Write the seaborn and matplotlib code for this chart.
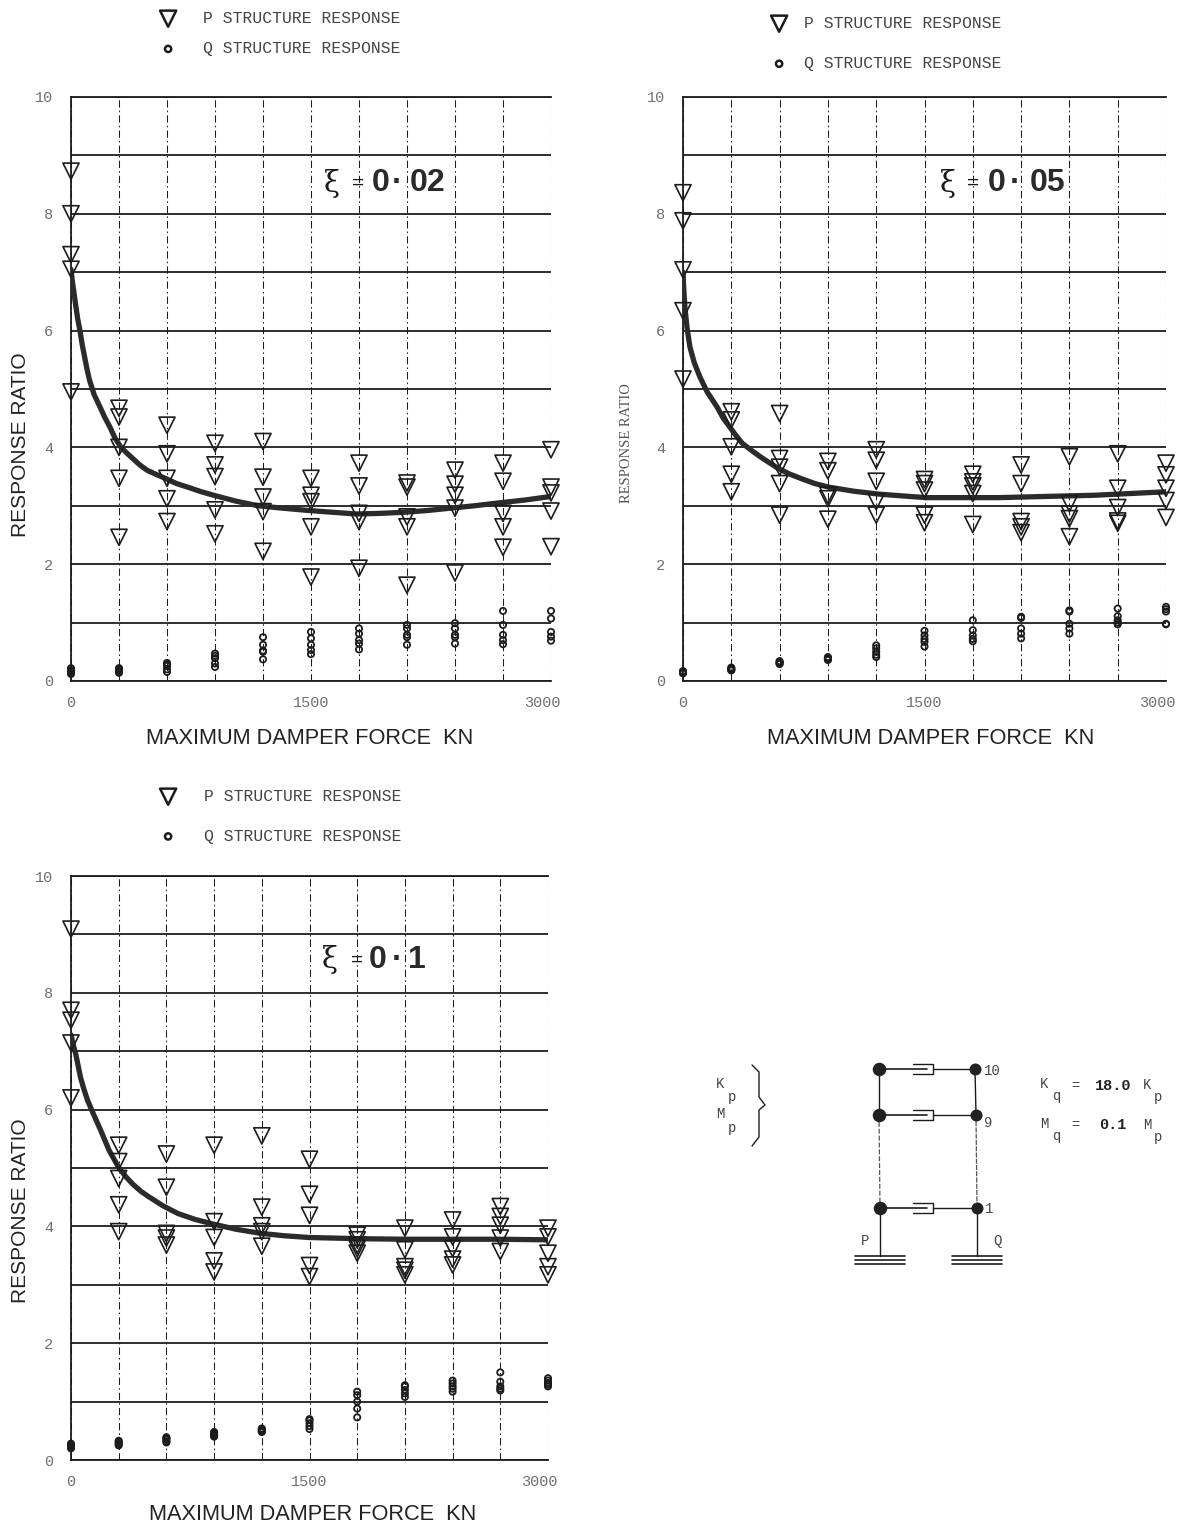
# Response ratio vs maximum damper force, three damping ratios + model sketch
import pandas as pd
import seaborn as sns
import matplotlib
matplotlib.use('Agg')
import matplotlib.pyplot as plt
from matplotlib.transforms import ScaledTranslation

# data
force = [0, 300, 600, 900, 1200, 1500, 1800, 2100, 2400, 2700, 3000]

p_002 = [[8.73, 8.0, 7.3, 7.05, 4.95], [4.67, 4.52, 4.0, 3.47, 2.46], [4.38, 3.89, 3.47, 3.12, 2.73],
         [4.07, 3.7, 3.5, 2.93, 2.52], [4.1, 3.49, 3.15, 2.9, 2.22], [3.47, 3.18, 3.07, 2.64, 1.78],
         [3.73, 3.34, 2.87, 2.73, 1.93], [3.39, 3.32, 2.81, 2.64, 1.64], [3.61, 3.37, 3.18, 2.96, 1.85],
         [3.73, 3.42, 2.87, 2.64, 2.29], [3.96, 3.32, 3.22, 2.91, 2.3]]
q_002 = [[0.22, 0.19, 0.17, 0.14, 0.12], [0.22, 0.2, 0.18, 0.16, 0.14], [0.31, 0.28, 0.26, 0.2, 0.155],
         [0.47, 0.43, 0.39, 0.3, 0.24], [0.75, 0.62, 0.52, 0.5, 0.37], [0.84, 0.73, 0.62, 0.53, 0.46],
         [0.9, 0.81, 0.7, 0.64, 0.54], [0.96, 0.9, 0.79, 0.75, 0.62], [0.99, 0.9, 0.79, 0.75, 0.64],
         [1.2, 0.96, 0.79, 0.7, 0.63], [1.2, 1.07, 0.84, 0.76, 0.69]]
curve_x_002 = [0, 8, 15, 30, 42, 56, 70, 85, 100, 116, 145, 180, 210, 243, 275, 313, 350, 390, 430, 475, 530, 590,
               660, 740, 815, 892, 1030, 1170, 1320, 1483, 1630, 1784, 1930, 2085, 2230, 2374, 2520, 2675, 2840, 3000]
curve_y_002 = [7.05, 6.85, 6.72, 6.42, 6.2, 6.0, 5.76, 5.55, 5.34, 5.15, 4.9, 4.7, 4.52, 4.35, 4.16, 4.0, 3.9, 3.8,
               3.7, 3.61, 3.54, 3.47, 3.38, 3.31, 3.24, 3.18, 3.08, 3.0, 2.96, 2.92, 2.89, 2.86, 2.87, 2.89, 2.92,
               2.96, 3.0, 3.05, 3.1, 3.16]

p_005 = [[8.36, 7.88, 7.04, 6.34, 5.17], [4.61, 4.47, 4.01, 3.54, 3.24], [4.58, 3.81, 3.66, 3.38, 2.84],
         [3.76, 3.6, 3.18, 3.12, 2.77], [3.96, 3.78, 3.42, 3.07, 2.84], [3.45, 3.38, 3.27, 2.84, 2.71],
         [3.54, 3.41, 3.34, 3.21, 2.68], [3.7, 3.38, 2.73, 2.64, 2.54], [3.84, 3.04, 2.86, 2.78, 2.47],
         [3.89, 3.3, 2.97, 2.74, 2.7], [3.73, 3.53, 3.3, 3.09, 2.8]]
q_005 = [[0.17, 0.16, 0.15, 0.14, 0.13], [0.23, 0.22, 0.2, 0.19, 0.18], [0.34, 0.33, 0.31, 0.3, 0.29],
         [0.41, 0.39, 0.38, 0.37, 0.36], [0.61, 0.56, 0.5, 0.45, 0.41], [0.86, 0.78, 0.72, 0.67, 0.59],
         [1.04, 0.87, 0.78, 0.72, 0.68], [1.1, 1.08, 0.9, 0.81, 0.73], [1.21, 1.19, 0.98, 0.9, 0.81],
         [1.24, 1.11, 1.04, 1.0, 0.97], [1.27, 1.23, 1.19, 0.98, 0.97]]
curve_x_005 = [0, 5, 12, 25, 43, 70, 106, 150, 212, 250, 290, 330, 368, 425, 480, 535, 592, 665, 740, 820, 905, 1060,
               1217, 1360, 1508, 1660, 1810, 1960, 2110, 2250, 2400, 2550, 2703, 2850, 3000]
curve_y_005 = [7.0, 6.7, 6.4, 6.05, 5.72, 5.45, 5.2, 4.95, 4.69, 4.5, 4.35, 4.2, 4.07, 3.95, 3.84, 3.74, 3.64, 3.54,
               3.46, 3.38, 3.32, 3.25, 3.2, 3.17, 3.14, 3.14, 3.14, 3.14, 3.15, 3.16, 3.17, 3.18, 3.2, 3.22, 3.24]

p_01 = [[9.09, 7.7, 7.53, 7.14, 6.2], [5.39, 5.11, 4.82, 4.37, 3.91], [5.24, 4.67, 3.88, 3.8, 3.68],
        [5.39, 4.08, 3.81, 3.41, 3.22], [5.55, 4.33, 4.01, 3.91, 3.66], [5.15, 4.55, 4.19, 3.33, 3.14],
        [3.85, 3.77, 3.68, 3.62, 3.54], [3.97, 3.6, 3.31, 3.25, 3.17], [4.11, 3.82, 3.62, 3.44, 3.34],
        [4.34, 4.17, 4.02, 3.8, 3.57], [3.97, 3.82, 3.54, 3.31, 3.17]]
q_01 = [[0.28, 0.26, 0.24, 0.22, 0.2], [0.33, 0.31, 0.29, 0.27, 0.25], [0.39, 0.37, 0.35, 0.32, 0.3],
        [0.48, 0.46, 0.44, 0.42, 0.4], [0.54, 0.52, 0.51, 0.49, 0.48], [0.7, 0.68, 0.63, 0.58, 0.53],
        [1.17, 1.11, 1.0, 0.88, 0.73], [1.28, 1.26, 1.2, 1.14, 1.08], [1.36, 1.31, 1.26, 1.22, 1.17],
        [1.5, 1.34, 1.26, 1.22, 1.19], [1.4, 1.36, 1.32, 1.29, 1.26]]
curve_x_01 = [0, 15, 30, 45, 60, 80, 104, 145, 186, 240, 302, 345, 390, 440, 488, 580, 673, 780, 894, 1040, 1196, 1340,
              1497, 1650, 1800, 2100, 2396, 2700, 3000]
curve_y_01 = [7.28, 7.1, 6.95, 6.75, 6.55, 6.36, 6.16, 5.9, 5.65, 5.3, 5.0, 4.85, 4.72, 4.6, 4.51, 4.35, 4.22, 4.12,
              4.04, 3.95, 3.88, 3.84, 3.81, 3.8, 3.79, 3.78, 3.78, 3.78, 3.77]

y_ticks = [0, 1, 2, 3, 4, 5, 6, 7, 8, 9, 10]
y_labels = ['0', '', '2', '', '4', '', '6', '', '8', '', '10']
x_labels = ['0', '', '', '', '', '1500', '', '', '', '', '3000']

W, H = 1183, 1528
INK = '#1c1c1c'
FADE = '#707070'

sns.set_theme(style='white')
plt.rcParams['font.family'] = ['Liberation Sans', 'DejaVu Sans']

fig = plt.figure(figsize=(W / 100, H / 100), dpi=100, facecolor='white')


def fx(x):
    return x / W


def fy(y):
    return 1 - y / H


def long_table(rows):
    return pd.DataFrame([(f, v) for f, row in zip(force, rows) for v in row], columns=['force', 'ratio'])


def panel(box, p_rows, q_rows, curve_x, curve_y, legend_at, row_gap, text_pad):
    left, top, right, bottom = box
    ax = fig.add_axes([fx(left), fy(bottom), fx(right - left), (bottom - top) / H])
    ax.set_xlim(0, 3000)
    ax.set_ylim(0, 10)
    ax.set_xticks(force)
    ax.set_xticklabels(x_labels, family='Liberation Mono', fontsize=11, color=FADE)
    ax.set_yticks(y_ticks)
    ax.set_yticklabels(y_labels, family='Liberation Mono', fontsize=11, color=FADE)
    ax.tick_params(axis='x', length=3, width=0.9, color=INK, pad=8)
    ax.tick_params(axis='y', length=3, width=1.0, color=INK, pad=10)
    # last x label sits a little inside the axis end in the original
    last = ax.get_xticklabels()[-1]
    last.set_transform(last.get_transform() + ScaledTranslation(-6 / 72, 0, fig.dpi_scale_trans))
    ax.grid(axis='y', color=INK, lw=1.3, ls='-')
    ax.grid(axis='x', color=INK, lw=0.75, ls=(0, (7, 3, 1.5, 3)))
    ax.set_axisbelow(True)
    for side in ['top', 'left', 'bottom']:
        ax.spines[side].set_visible(True)
        ax.spines[side].set_color(INK)
        ax.spines[side].set_linewidth(1.3)
    ax.spines['right'].set_visible(False)

    sns.lineplot(x=curve_x, y=curve_y, ax=ax, color='#2b2b2b', lw=3.8, legend=False, zorder=3,
                 estimator=None, sort=False)
    sns.scatterplot(data=long_table(p_rows), x='force', y='ratio', ax=ax, marker='v', s=135, facecolor='none',
                    edgecolor=INK, linewidth=1.2, clip_on=False, zorder=4, label='P STRUCTURE RESPONSE')
    sns.scatterplot(data=long_table(q_rows), x='force', y='ratio', ax=ax, marker='o', s=20, facecolor='none',
                    edgecolor=INK, linewidth=1.3, clip_on=False, zorder=4, label='Q STRUCTURE RESPONSE')
    ax.set_xlabel('')
    ax.set_ylabel('')
    leg = ax.legend(loc='upper left', bbox_to_anchor=(fx(legend_at[0]), fy(legend_at[1])),
                    bbox_transform=fig.transFigure, frameon=False, borderpad=0, borderaxespad=0,
                    labelspacing=row_gap, handletextpad=text_pad, handlelength=1.6,
                    prop={'family': 'Liberation Mono', 'size': 11.8})
    for t in leg.get_texts():
        t.set_color('#444444')
    leg.legend_handles[0].set_linewidth(1.8)
    leg.legend_handles[1].set_linewidth(1.8)
    return ax


panel((71, 97, 551, 681), p_002, q_002, curve_x_002, curve_y_002, (155, 11), 0.93, 1.35)
panel((683, 97, 1166, 681), p_005, q_005, curve_x_005, curve_y_005, (766, 16), 1.53, 0.73)
panel((71, 876, 548, 1460), p_01, q_01, curve_x_01, curve_y_01, (155, 789), 1.51, 1.4)

# axis titles
label_font = dict(family='Liberation Sans', fontsize=15.7, color='#222222', ha='center', va='center')
fig.text(fx(310), fy(738), 'MAXIMUM DAMPER FORCE  KN', **label_font)
fig.text(fx(931), fy(738), 'MAXIMUM DAMPER FORCE  KN', **label_font)
fig.text(fx(313), fy(1515), 'MAXIMUM DAMPER FORCE  KN', **label_font)
side_font = dict(label_font, fontsize=15)
fig.text(fx(20), fy(445), 'RESPONSE RATIO', rotation=90, **side_font)
fig.text(fx(20), fy(1211), 'RESPONSE RATIO', rotation=90, **side_font)
fig.text(fx(627), fy(443), 'RESPONSE RATIO', rotation=90, family='Liberation Serif', fontsize=10.5,
         color='#555555', ha='center', va='center')

# damping ratio notes, each piece placed on its own as in the typed original
xi_font = dict(family='DejaVu Serif', fontsize=21, color=INK, ha='center', va='center')
eq_font = dict(family='Liberation Sans', fontsize=15, color=INK, ha='center', va='center')
val_font = dict(family='Liberation Sans', fontsize=23, fontweight='bold', color='#2a2a2a', ha='left', va='center')
dot_font = dict(val_font, ha='center')
for y, xi_x, eq_x, first_x, dot_x, rest_x, rest in [(183, 332, 358, 372, 397, 410, '02'),
                                                    (183, 948, 973, 988, 1015, 1030, '05'),
                                                    (960, 330, 357, 369, 397, 408, '1')]:
    fig.text(fx(xi_x), fy(y), 'ξ', **xi_font)
    fig.text(fx(eq_x), fy(y), '=', **eq_font)
    fig.text(fx(first_x), fy(y), '0', **val_font)
    fig.text(fx(dot_x), fy(y), '·', **dot_font)
    fig.text(fx(rest_x), fy(y), rest, **val_font)

# model sketch, drawn in picture pixels
sk = fig.add_axes([0, 0, 1, 1], facecolor='none')
sk.set_xlim(0, W)
sk.set_ylim(H, 0)
sk.axis('off')

left_nodes_x = [879, 879, 880]
right_nodes_x = [975, 976, 977]
node_y = [1069, 1115, 1208]
brace_x = [752, 759, 759, 765, 759, 759, 752]
brace_y = [1065, 1072, 1097, 1105, 1110, 1137, 1146]

sk.plot(left_nodes_x[:2], node_y[:2], color=INK, lw=1)
sk.plot(right_nodes_x[:2], node_y[:2], color=INK, lw=1)
sk.plot(left_nodes_x[1:], node_y[1:], color='#555555', lw=0.9, ls=(0, (4, 1.5)))
sk.plot(right_nodes_x[1:], node_y[1:], color='#555555', lw=0.9, ls=(0, (4, 1)))
sk.plot([880, 880], [1208, 1256], color=INK, lw=1)
sk.plot([977, 977], [1208, 1256], color=INK, lw=1)
for base_y in [1256, 1260, 1264]:
    sk.plot([855, 905], [base_y, base_y], color=INK, lw=1.2)
    sk.plot([952, 1002], [base_y, base_y], color=INK, lw=1.2)
for xl, xr, yy in zip(left_nodes_x, right_nodes_x, node_y):
    sk.plot([xl, 927], [yy, yy], color=INK, lw=1.2)
    sk.plot([913, 933, 933, 913], [yy - 5, yy - 5, yy + 5, yy + 5], color=INK, lw=1)
    sk.plot([933, xr], [yy, yy], color=INK, lw=1)
sns.scatterplot(x=left_nodes_x, y=node_y, ax=sk, s=95, color='#222222', linewidth=0, zorder=5, legend=False)
sns.scatterplot(x=right_nodes_x, y=node_y, ax=sk, s=75, color='#222222', linewidth=0, zorder=5, legend=False)
sk.plot(brace_x, brace_y, color=INK, lw=1)

note = dict(family='Liberation Mono', fontsize=10, color='#444444', ha='center', va='center')
for txt, x, y in [('10', 992, 1071), ('9', 988, 1123), ('1', 989, 1209), ('P', 865, 1241), ('Q', 997, 1241),
                  ('K', 720, 1084), ('p', 732, 1097), ('M', 720, 1114), ('p', 732, 1128),
                  ('K', 1044, 1084), ('q', 1056, 1096), ('=', 1075, 1086), ('K', 1147, 1085), ('p', 1158, 1097),
                  ('M', 1044, 1124), ('q', 1056, 1136), ('=', 1075, 1125), ('M', 1147, 1125), ('p', 1158, 1137)]:
    sk.text(x, y, txt, **note)
bold_note = dict(family='Liberation Mono', fontsize=11, fontweight='bold', color='#222222', ha='center', va='center')
sk.text(1113, 1086, '18.0', **bold_note)
sk.text(1113, 1125, '0.1', **bold_note)

fig.savefig('out.png', dpi=100, facecolor='white')
